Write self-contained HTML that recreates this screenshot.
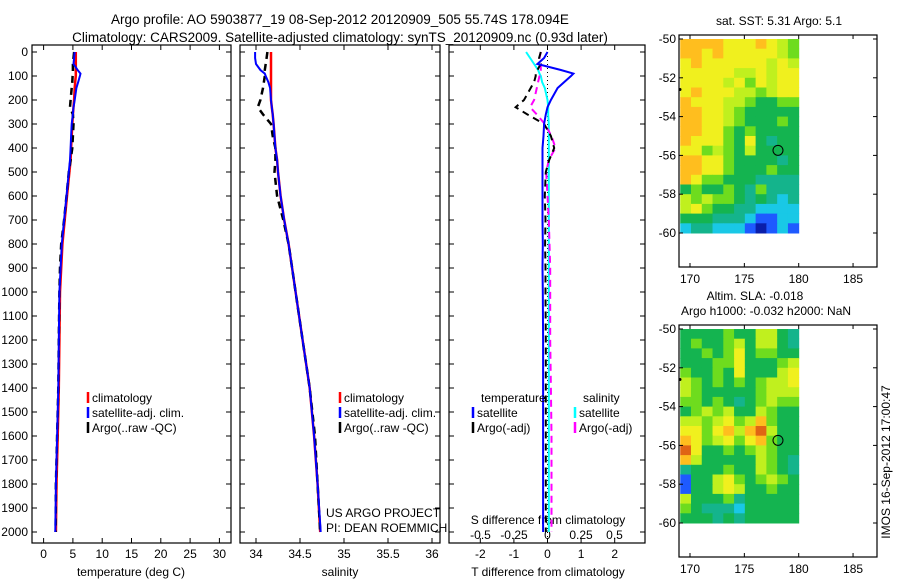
<!DOCTYPE html>
<html><head><meta charset="utf-8">
<style>
html,body{margin:0;padding:0;background:#fff;}
svg{display:block;font-family:"Liberation Sans",sans-serif;}
</style></head>
<body>
<svg id="chart" width="900" height="580" viewBox="0 0 900 580" xmlns="http://www.w3.org/2000/svg">
<text x="340" y="24" font-size="13.5" text-anchor="middle">Argo profile: AO 5903877_19 08-Sep-2012 20120909_505 55.74S 178.094E</text>
<text x="340" y="42" font-size="13.5" text-anchor="middle">Climatology: CARS2009. Satellite-adjusted climatology: synTS_20120909.nc (0.93d later)</text>
<g id="plots"></g>
</svg>
<script>
const depths = [0,25,50,75,90,100,125,150,200,230,260,300,350,400,450,500,600,700,800,900,1000,1200,1400,1600,1800,2000];
const tempClim = [5.5,5.5,5.5,5.5,5.5,5.5,5.4,5.3,5.2,5.1,5.0,4.9,4.8,4.7,4.6,4.4,4.0,3.6,3.2,3.0,2.8,2.7,2.6,2.4,2.2,2.1];
const tempSat = [5.3,5.2,5.1,5.8,6.3,6.2,5.9,5.6,5.3,5.1,5.0,4.8,4.7,4.6,4.5,4.3,3.9,3.5,3.1,2.9,2.7,2.6,2.5,2.3,2.1,2.0];
const tempArgo = [5.2,5.1,5.0,5.0,5.0,4.95,4.9,4.8,4.6,4.5,5.0,5.1,5.0,4.9,4.6,4.3,3.9,3.5,3.0,2.8,2.7,2.6,2.5,2.3,2.1,2.05];
const salClim = [34.17,34.17,34.17,34.17,34.17,34.17,34.17,34.17,34.17,34.18,34.19,34.2,34.21,34.22,34.24,34.25,34.28,34.32,34.37,34.41,34.45,34.53,34.61,34.66,34.70,34.73];
const salSat = [33.99,33.99,34.0,34.05,34.1,34.11,34.14,34.16,34.17,34.18,34.19,34.2,34.21,34.22,34.24,34.25,34.28,34.32,34.37,34.41,34.45,34.53,34.61,34.66,34.70,34.735];
const salArgo = [34.13,34.12,34.11,34.10,34.10,34.10,34.09,34.08,34.05,34.02,34.08,34.17,34.19,34.22,34.22,34.21,34.24,34.31,34.37,34.41,34.45,34.53,34.61,34.67,34.70,34.73];
const tDiffSat = [0,-0.1,-0.3,0.4,0.77,0.7,0.5,0.3,0.1,0,-0.05,-0.1,-0.12,-0.15,-0.15,-0.15,-0.15,-0.15,-0.14,-0.15,-0.14,-0.13,-0.13,-0.13,-0.13,-0.13];
const tDiffArgo = [-0.2,-0.25,-0.2,-0.3,-0.35,-0.35,-0.4,-0.5,-0.7,-0.95,-0.6,-0.1,0.1,0.2,0.05,-0.05,-0.08,-0.06,-0.07,-0.06,-0.06,-0.05,-0.05,-0.05,-0.05,-0.05];
const sDiffSat = [-0.16,-0.13,-0.1,-0.07,-0.06,-0.05,-0.04,-0.02,0,0.005,0.005,0.01,0.01,0.01,0.01,0.01,0.01,0.01,0.01,0.01,0.01,0.01,0.01,0.01,0.01,0.01];
const sDiffArgo = [-0.05,-0.06,-0.05,-0.05,-0.06,-0.06,-0.07,-0.08,-0.1,-0.13,-0.08,-0.02,0.03,0.06,0.01,-0.01,0.0,0.01,0.015,0.02,0.02,0.02,0.025,0.03,0.03,0.03];
const depthTicks = [0,100,200,300,400,500,600,700,800,900,1000,1100,1200,1300,1400,1500,1600,1700,1800,1900,2000];
const tempTicks = [0,5,10,15,20,25,30];
const salTicks = ["34","34.5","35","35.5","36"];
const tdTicks = ["-2","-1","0","1","2"];
const sdTicks = ["-0.5","-0.25","0","0.25","0.5"];
const mapLonTicks = [170,175,180,185];
const mapLatTicks = [-50,-52,-54,-56,-58,-60];
const sstGrid = [
[8,8,8,8,7,7,7,8,7,6,5],[8,8,7,8,7,7,7,7,7,6,5],[7,8,7,7,7,7,7,7,6,7,6],[7,7,7,7,7,6,6,7,6,7,7],
[7,7,7,7,6,7,5,7,6,7,7],[7,8,7,7,7,6,6,5,6,7,7],[8,7,7,7,6,6,5,4,4,5,5],[8,8,7,7,6,5,4,4,4,4,4],
[8,8,7,7,6,5,4,4,4,5,4],[8,8,7,7,5,4,5,4,4,4,4],[8,7,7,7,5,4,7,4,3,4,4],[7,7,5,6,5,4,6,4,4,4,4],
[8,8,7,7,5,4,4,4,4,3,4],[8,8,7,7,5,4,4,4,5,4,4],[8,7,5,5,4,4,4,3,3,3,3],[4,5,4,4,5,4,3,5,3,3,3],
[6,5,6,5,5,4,3,4,3,2,3],[6,7,5,4,4,3,3,2,2,2,2],[4,4,4,3,3,3,2,1,1,2,2],[2,3,3,2,2,2,1,0,1,2,1]];
const slaGrid = [
[4,4,4,4,5,4,4,6,6,4,3],[4,5,4,4,5,6,4,6,6,4,3],[4,4,5,4,5,7,4,5,5,4,4],[4,4,4,5,5,7,4,4,4,5,6],
[5,4,4,5,4,7,4,4,4,6,7],[6,5,4,5,4,5,4,5,6,6,7],[6,5,4,4,4,4,4,5,6,6,6],[5,5,4,5,4,3,4,5,6,5,5],
[4,5,6,5,6,4,4,6,5,4,4],[6,6,5,6,7,5,6,8,5,4,4],[7,7,5,7,8,6,8,9,6,4,4],[8,7,5,6,7,5,7,8,5,4,4],
[9,7,4,4,5,4,5,6,5,4,4],[8,6,4,4,4,4,4,6,5,4,3],[3,4,4,4,5,4,4,6,5,4,3],[1,4,4,6,7,5,4,5,6,5,4],
[1,4,4,6,7,6,4,4,5,4,4],[6,4,4,4,5,3,4,4,4,4,4],[5,4,3,3,3,2,4,4,4,4,4],[4,4,4,3,4,3,4,4,4,4,4]];
const palette = ["#0a1eaa","#1e5aff","#19c8e6","#14b48c","#14b450","#6edc1e","#c0f01e","#f0f01e","#ffbe1e","#e06414"];
const argoLon = 178.094, argoLat = -55.74;

const NS="http://www.w3.org/2000/svg";
const root=document.getElementById('plots');
function mk(tag,attrs,parent){const e=document.createElementNS(NS,tag);for(const k in attrs)e.setAttribute(k,attrs[k]);(parent||root).appendChild(e);return e;}
const yD = d => 52 + 0.24*d;
const xT = t => 43.6 + 5.86*t;
const xS = s => 256 + 88*(s-34);
const xTD = t => 547.5 + 33.6*t;
const xSD = s => 547.5 + 134*s;

function frame(x0,x1,name){
  const r=mk('rect',{x:x0,y:45,width:x1-x0,height:498,fill:'none',stroke:'#000','stroke-width':1.2});
  
  
  depthTicks.forEach(d=>{
    mk('line',{x1:x0,x2:x0+5,y1:yD(d),y2:yD(d),stroke:'#000'});
    mk('line',{x1:x1,x2:x1-5,y1:yD(d),y2:yD(d),stroke:'#000'});
  });
}
function series(xf,vals,color,dash,name,w){
  const p=depths.map((d,i)=>xf(vals[i]).toFixed(1)+','+yD(d).toFixed(1)).join(' ');
  const l=mk('polyline',{points:p,fill:'none',stroke:color,'stroke-width':w||2,'stroke-dasharray':dash||'none'});
  
  
}
function txt(x,y,s,opts,name){
  const t=mk('text',Object.assign({x:x,y:y,'font-size':12},opts||{}));t.textContent=s;
  
  
  return t;
}
function legend(x,y,color,label,name){
  mk('line',{x1:x,x2:x,y1:y-10,y2:y+1,stroke:color,'stroke-width':2.5});
  txt(x+4,y,label,{},name);
}

// Panel 1: temperature
frame(32,231,'temperature-panel');
depthTicks.forEach(d=>txt(28,yD(d)+4,String(d),{'text-anchor':'end'},'depth-tick-label'));
tempTicks.forEach(t=>{mk('line',{x1:xT(t),x2:xT(t),y1:543,y2:538,stroke:'#000'});mk('line',{x1:xT(t),x2:xT(t),y1:45,y2:50,stroke:'#000'});txt(xT(t),558,String(t),{'text-anchor':'middle'},'temperature-tick-label');});
txt(131,576,'temperature (deg C)',{'text-anchor':'middle'},'x-axis-title-temperature');
series(xT,tempClim,'#ff0000',null,'temperature-climatology-line',2.5);
series(xT,tempArgo,'#000000','7,5','temperature-argo-line',2.5);
series(xT,tempSat,'#0000ff',null,'temperature-satellite-line',2);
legend(88,402,'#ff0000','climatology','legend-climatology');
legend(88,417,'#0000ff','satellite-adj. clim.','legend-satellite');
legend(88,432,'#000000','Argo(..raw -QC)','legend-argo');

// Panel 2: salinity
frame(240,440,'salinity-panel');
salTicks.forEach(s=>{const x=xS(+s);mk('line',{x1:x,x2:x,y1:543,y2:538,stroke:'#000'});mk('line',{x1:x,x2:x,y1:45,y2:50,stroke:'#000'});txt(x,558,s,{'text-anchor':'middle'},'salinity-tick-label');});
txt(340,576,'salinity',{'text-anchor':'middle'},'x-axis-title-salinity');
series(xS,salClim,'#ff0000',null,'salinity-climatology-line',2.5);
series(xS,salArgo,'#000000','7,5','salinity-argo-line',2.5);
series(xS,salSat,'#0000ff',null,'salinity-satellite-line',2);
legend(340,402,'#ff0000','climatology','legend-climatology-2');
legend(340,417,'#0000ff','satellite-adj. clim.','legend-satellite-2');
legend(340,432,'#000000','Argo(..raw -QC)','legend-argo-2');
txt(326,517,'US ARGO PROJECT',{},'project-label');
txt(326,532,'PI: DEAN ROEMMICH',{},'pi-label');

// Panel 3: differences
frame(449,645,'difference-panel');
tdTicks.forEach(s=>{const x=xTD(+s);mk('line',{x1:x,x2:x,y1:543,y2:538,stroke:'#000'});mk('line',{x1:x,x2:x,y1:45,y2:50,stroke:'#000'});txt(x,558,s,{'text-anchor':'middle'},'t-diff-tick-label');});
sdTicks.forEach(s=>txt(xSD(+s),539,s,{'text-anchor':'middle'},'s-diff-tick-label'));
txt(548,524,'S difference from climatology',{'text-anchor':'middle'},'s-diff-axis-title');
txt(548,576,'T difference from climatology',{'text-anchor':'middle'},'x-axis-title-t-diff');
mk('line',{x1:xTD(0),x2:xTD(0),y1:52,y2:543,stroke:'#000','stroke-dasharray':'1,3'});
series(xSD,sDiffSat,'#00ffff',null,'s-diff-satellite-line',2);
series(xSD,sDiffArgo,'#ff00ff','7,5','s-diff-argo-line',2);
series(xTD,tDiffArgo,'#000000','7,5','t-diff-argo-line',2);
series(xTD,tDiffSat,'#0000ff',null,'t-diff-satellite-line',2);
txt(481,402,'temperature',{},'legend-heading-temperature');
txt(583,402,'salinity',{},'legend-heading-salinity');
legend(473,417,'#0000ff','satellite','legend-t-satellite');
legend(473,432,'#000000','Argo(-adj)','legend-t-argo');
legend(575,417,'#00ffff','satellite','legend-s-satellite');
legend(575,432,'#ff00ff','Argo(-adj)','legend-s-argo');

// Maps
function map(top,grid,name,titles){
  const lonX = lon => 690 + 10.87*(lon-170);
  const latY = lat => top+4 + 19.4*(-50-lat);
  const g=mk('g',{});
  
  
  const lon0=169.1, dLon=(180-169.1)/11;
  grid.forEach((row,r)=>row.forEach((v,c)=>{
    const x0=lonX(lon0+c*dLon), x1=lonX(lon0+(c+1)*dLon);
    const y0=latY(-50-r*0.5), y1=latY(-50.5-r*0.5);
    const cell=mk('rect',{x:x0.toFixed(2),y:y0.toFixed(2),width:(x1-x0+0.5).toFixed(2),height:(y1-y0+0.5).toFixed(2),fill:palette[v]},g);
    
    
  }));
  mk('rect',{x:679,y:top,width:198,height:232,fill:'none',stroke:'#000','stroke-width':1.2},g);
  mapLonTicks.forEach(l=>{const x=lonX(l);mk('line',{x1:x,x2:x,y1:top,y2:top+4,stroke:'#000'},g);mk('line',{x1:x,x2:x,y1:top+232,y2:top+228,stroke:'#000'},g);txt(x,top+248,String(l),{'text-anchor':'middle'},'map-lon-tick-label');});
  mapLatTicks.forEach(l=>{const y=latY(l);mk('line',{x1:679,x2:683,y1:y,y2:y,stroke:'#000'},g);mk('line',{x1:877,x2:873,y1:y,y2:y,stroke:'#000'},g);txt(676,y+4,String(l),{'text-anchor':'end'},'map-lat-tick-label');});
  const c=mk('circle',{cx:lonX(argoLon),cy:latY(argoLat),r:5,fill:'none',stroke:'#000','stroke-width':1},g);
  
  
  mk('circle',{cx:680,cy:latY(-52.6),r:1.5,fill:'#000'},g);
  titles.forEach((t,i)=>txt(t[1],top-(titles.length-i)*15+5,t[0],{'text-anchor':'middle'},'map-title'));
}
map(35,sstGrid,'sst-map',[['sat. SST: 5.31  Argo: 5.1',779]]);
map(325,slaGrid,'sla-map',[['Altim. SLA: -0.018',755],['Argo h1000: -0.032  h2000: NaN',766]]);
const stamp=txt(0,0,'IMOS 16-Sep-2012 17:00:47',{transform:'translate(890,462) rotate(-90)','text-anchor':'middle'},'timestamp-label');
</script>
</body></html>
